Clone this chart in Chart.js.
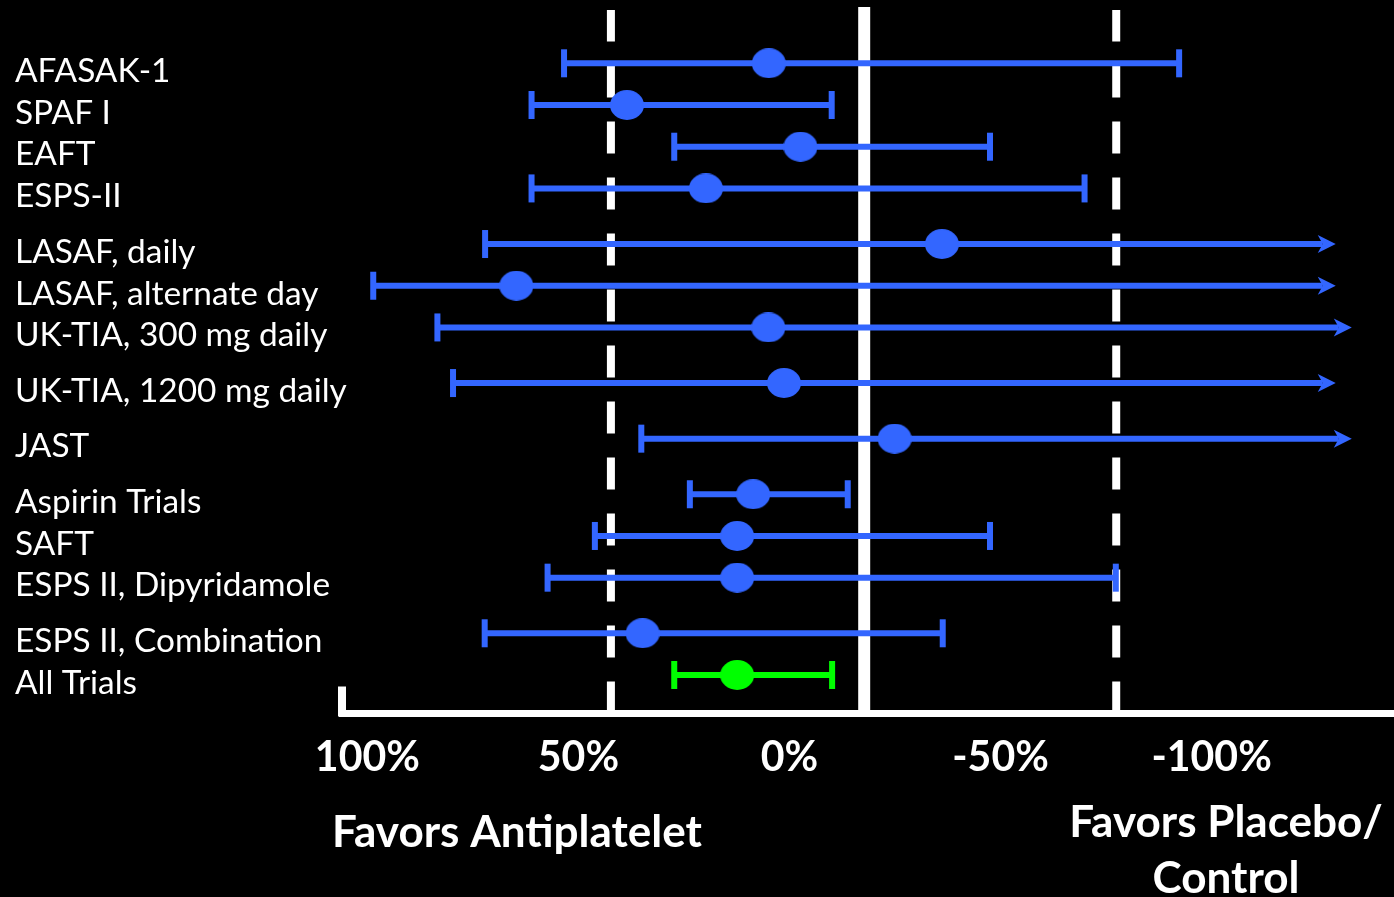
<!DOCTYPE html>
<html>
<head>
<meta charset="utf-8">
<script src="https://cdn.jsdelivr.net/npm/chart.js@4.4.0/dist/chart.umd.min.js"></script>
<style>
  html, body { margin: 0; padding: 0; background: #000; overflow: hidden; }
  #wrap { width: 1394px; height: 897px; position: relative; }
  canvas { display: block; }
</style>
</head>
<body>
<div id="wrap"><canvas id="forest"></canvas></div>
<script>
// trials, top to bottom
var trials = ['AFASAK-1', 'SPAF I', 'EAFT', 'ESPS-II', 'LASAF, daily', 'LASAF, alternate day',
  'UK-TIA, 300 mg daily', 'UK-TIA, 1200 mg daily', 'JAST', 'Aspirin Trials', 'SAFT',
  'ESPS II, Dipyridamole', 'ESPS II, Combination', 'All Trials'];

// risk reduction in % (positive = favors antiplatelet, drawn to the left)
var estimates = [4.9, 38.5, -2.6, 19.8, -36.1, 64.7, 5.0, 1.3, -24.9, 8.6, 12.4, 12.4, 34.8, 12.4];
var ciUpper   = [53.4, 61.1, 27.3, 61.1, 72.1, 98.6, 83.4, 79.7, 35.1, 23.6, 46.1, 57.3, 72.2, 27.3];
var ciLower   = [-92.3, -10.0, -47.5, -69.9, -129.4, -129.4, -133.2, -129.4, -133.2, -13.8, -47.5, -77.3, -36.3, -10.1];
// interval runs off the scale -> arrow instead of cap
var openEnded = [false, false, false, false, true, true, true, true, true, false, false, false, false, false];

var tickValues = [100, 50, 0, -50, -100];
var dashedRefs = [42.3, -77.4];
var solidRef = -17.7;

// rows that start a new block (a bit more space above them)
var newGroup = [4, 7, 8, 9, 12];

var BLUE = '#3366ff';
var GREEN = '#00ff00';
var FONT = 'Lato';

var rowPos = [];
var pos = 0;
for (var i = 0; i < trials.length; i++) {
  if (i > 0) pos += newGroup.indexOf(i) >= 0 ? 4 / 3 : 1;
  rowPos.push(pos);
}
var colors = trials.map(function (t, i) { return i === trials.length - 1 ? GREEN : BLUE; });

function fitSize(text, weight, width) {
  var c = document.createElement('canvas').getContext('2d');
  c.font = weight + ' 100px ' + FONT;
  return 100 * width / c.measureText(text).width;
}
var labelSize = fitSize('UK-TIA, 1200 mg daily', 'normal', 332);
var tickSize = fitSize('100%', 'bold', 105);
var noteSize = fitSize('Favors Antiplatelet', 'bold', 370);

function ellipse(color) {
  var c = document.createElement('canvas');
  c.width = 34; c.height = 30;
  var g = c.getContext('2d');
  g.fillStyle = color;
  g.beginPath();
  g.ellipse(17, 15, 17, 15, 0, 0, Math.PI * 2);
  g.fill();
  return c;
}
var markers = colors.map(ellipse);

function noPadding(scale) {
  scale.paddingTop = 0;
  scale.paddingBottom = 0;
  scale.paddingLeft = 0;
  scale.paddingRight = 0;
}

var whiskers = {
  id: 'whiskers',
  beforeDatasetsDraw: function (chart) {
    var ctx = chart.ctx, xs = chart.scales.x, ys = chart.scales.y, area = chart.chartArea;
    ctx.save();
    // reference lines
    ctx.strokeStyle = '#fff';
    ctx.lineWidth = 8;
    ctx.setLineDash([32, 24]);
    dashedRefs.forEach(function (v) {
      var px = xs.getPixelForValue(v);
      ctx.beginPath();
      ctx.moveTo(px, area.bottom);
      ctx.lineTo(px, area.top + 3);
      ctx.stroke();
    });
    ctx.setLineDash([]);
    ctx.fillStyle = '#fff';
    var sx = xs.getPixelForValue(solidRef);
    ctx.fillRect(sx - 6, area.top, 12, area.bottom - area.top);
    // little stub at the left end of the axis
    ctx.fillRect(area.left - 4, area.bottom - 27, 8, 30);

    // confidence intervals
    for (var i = 0; i < trials.length; i++) {
      var y = ys.getPixelForValue(rowPos[i]);
      var x1 = xs.getPixelForValue(ciUpper[i]);
      var x2 = xs.getPixelForValue(ciLower[i]);
      ctx.fillStyle = colors[i];
      ctx.strokeStyle = colors[i];
      ctx.lineWidth = 6;
      var end = openEnded[i] ? x2 - 13 : x2;
      ctx.beginPath();
      ctx.moveTo(x1, y);
      ctx.lineTo(end, y);
      ctx.stroke();
      ctx.fillRect(x1 - 3, y - 14, 6, 28);
      if (openEnded[i]) {
        ctx.beginPath();
        ctx.moveTo(x2, y);
        ctx.lineTo(x2 - 18, y - 9);
        ctx.lineTo(x2 - 13, y);
        ctx.lineTo(x2 - 18, y + 9);
        ctx.closePath();
        ctx.fill();
      } else {
        ctx.fillRect(x2 - 3, y - 14, 6, 28);
      }
    }
    ctx.restore();
  },
  afterDraw: function (chart) {
    var ctx = chart.ctx;
    ctx.save();
    ctx.fillStyle = '#fff';
    ctx.font = 'bold ' + noteSize + 'px ' + FONT;
    ctx.textAlign = 'center';
    ctx.textBaseline = 'alphabetic';
    ctx.fillText('Favors Antiplatelet', 517, 847);
    ctx.fillText('Favors Placebo/', 1226, 837);
    ctx.fillText('Control', 1226, 893);
    ctx.restore();
  }
};

var ctx = document.getElementById('forest');

var chartData = {
  datasets: [{
    data: trials.map(function (t, i) { return { x: estimates[i], y: rowPos[i] }; }),
    pointStyle: markers,
    backgroundColor: colors,
    borderWidth: 0,
    showLine: false
  }]
};

var config = {
  type: 'scatter',
  data: chartData,
  options: {
    responsive: true,
    maintainAspectRatio: false,
    animation: false,
    layout: { autoPadding: false, padding: { left: 15, top: 7, right: 0, bottom: 0 } },
    plugins: { legend: { display: false }, tooltip: { enabled: false } },
    scales: {
      x: {
        type: 'linear',
        reverse: true,
        min: -143.2,
        max: 106,
        afterBuildTicks: function (scale) {
          scale.ticks = tickValues.map(function (v) { return { value: v }; });
        },
        afterFit: function (scale) { scale.height = 183.5; noPadding(scale); },
        grid: { display: false, drawTicks: false },
        border: { display: true, color: '#fff', width: 7 },
        ticks: {
          color: '#fff',
          padding: 20,
          maxRotation: 0,
          font: { family: FONT, size: tickSize, weight: 'bold' },
          callback: function (v) { return v + '%'; }
        }
      },
      y: {
        type: 'linear',
        reverse: true,
        min: -1.35,
        max: 15.59,
        afterBuildTicks: function (scale) {
          scale.ticks = rowPos.map(function (v) { return { value: v }; });
        },
        afterFit: function (scale) { scale.width = 327; noPadding(scale); },
        grid: { display: false, drawTicks: false },
        border: { display: false },
        ticks: {
          color: '#fff',
          // mirrored so long labels are not clipped at the plot edge
          mirror: true,
          padding: -327,
          labelOffset: 8,
          font: { family: FONT, size: labelSize },
          callback: function (v, idx) { return trials[idx]; }
        }
      }
    }
  },
  plugins: [whiskers]
};

var forestChart = new Chart(ctx, config);
</script>
</body>
</html>
